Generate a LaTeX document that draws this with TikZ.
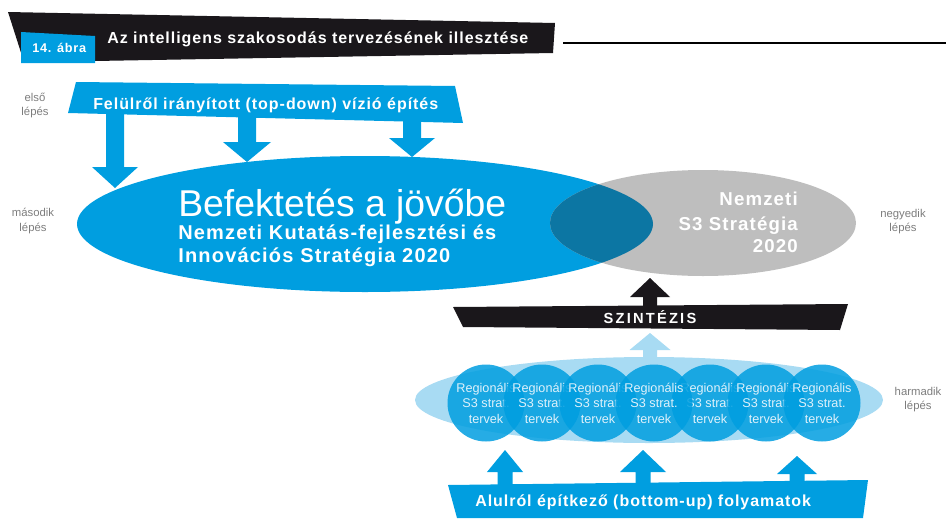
\documentclass[tikz,border=0pt]{standalone}
\usepackage{fontspec}
\setmainfont{Liberation Sans}
\newfontfamily\headfont{Liberation Sans}[LetterSpace=6]
\newfontfamily\synthfont{Liberation Sans}[LetterSpace=15]

\definecolor{sblue}{RGB}{0,158,224}
\definecolor{sgray}{RGB}{190,190,190}
\definecolor{sdark}{RGB}{12,118,163}
\definecolor{slight}{RGB}{168,219,243}
\definecolor{titleblack}{RGB}{26,23,27}
\definecolor{stepgray}{RGB}{125,125,125}
\definecolor{circtext}{RGB}{222,241,251}

% block arrow: colour, x, base y, tip y, head length, head half width, shaft half width
\newcommand{\blockarrow}[7]{%
  \fill[#1] ({#2-#7},#3) -- ({#2-#7},{#4-(#5)}) -- ({#2-#6},{#4-(#5)}) -- (#2,#4)
    -- ({#2+#6},{#4-(#5)}) -- ({#2+#7},{#4-(#5)}) -- ({#2+#7},#3) -- cycle;}

\begin{document}
\begin{tikzpicture}[x=0.75pt,y=-0.75pt,
    lepes/.style={align=center,text=stepgray,inner sep=0pt,font=\fontsize{8.5}{10.5}\selectfont},
    bannertext/.style={text=white,inner sep=0pt,anchor=base west,font=\headfont\bfseries\fontsize{12}{14}\selectfont},
    bigtext/.style={text=white,inner sep=0pt,font=\headfont\bfseries\fontsize{15}{17}\selectfont},
    regio/.style={circle,minimum size=57.75pt,inner sep=0pt,fill=sblue,fill opacity=0.85,text opacity=1,
      text=circtext,align=center,font=\fontsize{9.5}{11.6}\selectfont}]
    \useasboundingbox (0,0) rectangle (946,518);

    % Title banner
    \fill[titleblack] (8,12) -- (555,23) -- (553,53) -- (95,61) -- (24,62) -- cycle;
    \fill[sblue] (21,32) -- (95,36) -- (95,63) -- (21,63) -- cycle;
    \node[bannertext,font=\headfont\bfseries\fontsize{9.5}{11}\selectfont] (abra) at (32,52) {14. ábra};
    \node[bannertext] (title) at (107,43) {Az intelligens szakosodás tervezésének illesztése};
    \draw[line width=0.8pt] (563,43) -- (946,43);

    % Top-down banner
    \blockarrow{sblue}{115}{110}{188}{21}{23}{9}
    \blockarrow{sblue}{247}{110}{162}{20}{24}{9}
    \blockarrow{sblue}{412}{110}{157}{19}{23}{9}
    \fill[sblue] (76,82) -- (455,86) -- (463,123) -- (68,113) -- cycle;
    \node[bannertext] (topdown) at (93,109) {Felülről irányított (top-down) vízió építés};

    % The two strategies
    \fill[sblue] (365,224) ellipse [x radius=288, y radius=68];
    \fill[sgray] (703,223) ellipse [x radius=153, y radius=53];
    \begin{scope}
        \clip (703,223) ellipse [x radius=153, y radius=53];
        \fill[sdark] (365,224) ellipse [x radius=288, y radius=68];
    \end{scope}
    \node[anchor=base west,inner sep=0pt,text=white,font=\fontsize{28}{30}\selectfont] (befektetes) at (178,216) {Befektetés a jövőbe};
    \node[bigtext,anchor=base west] (nkfi1) at (178,239) {Nemzeti Kutatás-fejlesztési és};
    \node[bigtext,anchor=base west] (nkfi2) at (178,262) {Innovációs Stratégia 2020};
    \node[bigtext,anchor=base east,font=\headfont\bfseries\fontsize{14}{16}\selectfont] (s3a) at (798,205) {Nemzeti};
    \node[bigtext,anchor=base east,font=\headfont\bfseries\fontsize{14}{16}\selectfont] (s3b) at (798,230) {S3 Stratégia};
    \node[bigtext,anchor=base east,font=\headfont\bfseries\fontsize{14}{16}\selectfont] (s3c) at (798,252) {2020};

    % Synthesis
    \blockarrow{titleblack}{650}{310}{278}{-19}{20}{7}
    \fill[titleblack] (453,307) -- (848,304) -- (840,330) -- (463,327) -- cycle;
    \node[text=white,inner sep=0pt,anchor=base,font=\synthfont\bfseries\fontsize{11}{13}\selectfont] (szintezis) at (650,323) {SZINTÉZIS};

    % Regional plans
    \blockarrow{slight}{650}{362}{333}{-17}{20.5}{7}
    \fill[slight] (649,400) ellipse [x radius=234, y radius=43];
    \foreach \i in {1,2,3,5,6,7,4}
        \node[regio] (regio\i) at ({486+(\i-1)*56},403) {Regionális\\S3 strat.\\tervek};

    % Bottom-up banner
    \blockarrow{sblue}{505}{490}{450}{-22}{18}{7.5}
    \blockarrow{sblue}{643}{490}{450}{-22}{23}{7.5}
    \blockarrow{sblue}{797}{490}{456}{-18}{20}{7.5}
    \fill[sblue] (448,485) -- (868,480) -- (863,518) -- (457,518) -- cycle;
    \node[bannertext] (bottomup) at (475,506) {Alulról építkező (bottom-up) folyamatok};

    % Step labels
    \node[lepes] (elso) at (35,106) {első\\lépés};
    \node[lepes] (masodik) at (33,221) {második\\lépés};
    \node[lepes] (negyedik) at (903,222) {negyedik\\lépés};
    \node[lepes] (harmadik) at (918,400) {harmadik\\lépés};
\end{tikzpicture}
\end{document}
